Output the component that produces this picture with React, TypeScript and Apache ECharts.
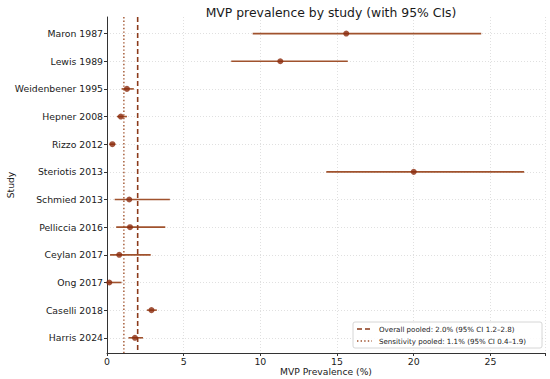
import React, { useEffect, useRef } from "react";
import * as echarts from "echarts";

const studies = [
  "Maron 1987",
  "Lewis 1989",
  "Weidenbener 1995",
  "Hepner 2008",
  "Rizzo 2012",
  "Steriotis 2013",
  "Schmied 2013",
  "Pelliccia 2016",
  "Ceylan 2017",
  "Ong 2017",
  "Caselli 2018",
  "Harris 2024",
];
const estimates = [15.6, 11.3, 1.3, 0.9, 0.35, 20.0, 1.45, 1.5, 0.8, 0.15, 2.9, 1.82];
const lowers = [9.5, 8.1, 0.95, 0.65, 0.15, 14.3, 0.5, 0.6, 0.2, 0.0, 2.6, 1.4];
const uppers = [24.4, 15.7, 1.75, 1.3, 0.55, 27.2, 4.1, 3.8, 2.85, 0.95, 3.25, 2.35];
const xTicks = [0, 5, 10, 15, 20, 25];
const pooledOverall = 2.0;
const pooledSensitivity = 1.1;
const legendLabels = [
  "Overall pooled: 2.0% (95% CI 1.2–2.8)",
  "Sensitivity pooled: 1.1% (95% CI 0.4–1.9)",
];

const FONT = "DejaVu Sans";
const CI_COLOR = "#a0522d";
const PT_COLOR = "#8b2a0c";
const POOL_COLOR = "#8b3a1a";

export default function App() {
  const ref = useRef<HTMLDivElement>(null);
  useEffect(() => {
    document.body.style.margin = "0";
    if (!ref.current) return;
    const chart = echarts.init(ref.current, null, { renderer: "svg" });
    const idx = studies.map((_, i) => i);
    const ciData = studies.map((_, i) => [lowers[i], uppers[i], i]);
    const ptData = studies.map((_, i) => [estimates[i], i]);
    const yMin = -0.6;
    const yMax = studies.length - 1 + 0.55;
    chart.setOption({
      animation: false,
      title: {
        text: "MVP prevalence by study (with 95% CIs)",
        left: 326,
        textAlign: "center",
        top: 1,
        textStyle: { fontFamily: FONT, fontSize: 12.4, fontWeight: "normal", color: "#1a1a1a" },
      },
      grid: { left: 107, right: 5, top: 17, bottom: 26, outerBoundsMode: "none", containLabel: false },
      xAxis: {
        type: "value",
        min: 0,
        max: 28.56,
        interval: 5,
        axisLine: { show: true, onZero: false, lineStyle: { color: "#333", width: 1 } },
        axisTick: { show: true, length: 3, lineStyle: { color: "#333" } },
        axisLabel: {
          fontFamily: FONT,
          fontSize: 9.4,
          color: "#1a1a1a",
          margin: 4,
          customValues: xTicks,
        },
        splitLine: { show: true, lineStyle: { color: "#d8d8d8", type: [1, 2], width: 0.8 } },
      },
      yAxis: {
        type: "value",
        min: yMin,
        max: yMax,
        inverse: true,
        axisLine: { show: true, onZero: false, lineStyle: { color: "#333", width: 1 } },
        axisTick: { show: true, length: 3, lineStyle: { color: "#333" }, customValues: idx },
        axisLabel: {
          fontFamily: FONT,
          fontSize: 9.3,
          color: "#1a1a1a",
          margin: 4,
          customValues: idx,
          formatter: (v: number) => studies[Math.round(v)] ?? "",
        },
        splitLine: { show: true, lineStyle: { color: "#d8d8d8", type: [1, 2], width: 0.8 } },
      },
      series: [
        {
          type: "custom",
          data: ciData,
          encode: { x: [0, 1], y: 2 },
          renderItem: (params: any, api: any) => {
            const p1 = api.coord([api.value(0), api.value(2)]);
            const p2 = api.coord([api.value(1), api.value(2)]);
            return {
              type: "line",
              shape: { x1: p1[0], y1: p1[1], x2: p2[0], y2: p2[1] },
              style: { stroke: CI_COLOR, lineWidth: 1.6 },
            };
          },
          z: 3,
        },
        {
          type: "scatter",
          data: ptData,
          symbol: "circle",
          symbolSize: 6,
          itemStyle: { color: PT_COLOR },
          z: 5,
        },
        {
          type: "line",
          data: [
            [pooledOverall, yMin],
            [pooledOverall, yMax],
          ],
          showSymbol: false,
          symbol: "none",
          lineStyle: { color: POOL_COLOR, width: 1.6, type: [5, 3] },
          z: 4,
        },
        {
          type: "line",
          data: [
            [pooledSensitivity, yMin],
            [pooledSensitivity, yMax],
          ],
          showSymbol: false,
          symbol: "none",
          lineStyle: { color: CI_COLOR, width: 1.4, type: [1.4, 2.2] },
          z: 4,
        },
      ],
      graphic: [
        {
          type: "text",
          x: 326,
          y: 371,
          style: {
            text: "MVP Prevalence (%)",
            fontFamily: FONT,
            fontSize: 9.2,
            fill: "#1a1a1a",
            align: "center",
            verticalAlign: "middle",
          },
        },
        {
          type: "text",
          x: 10,
          y: 185,
          rotation: Math.PI / 2,
          style: {
            text: "Study",
            fontFamily: FONT,
            fontSize: 9.2,
            fill: "#1a1a1a",
            align: "center",
            verticalAlign: "middle",
          },
        },
        {
          type: "rect",
          shape: { x: 353, y: 322, width: 189, height: 26, r: 2 },
          style: { fill: "rgba(255,255,255,0.85)", stroke: "#cccccc", lineWidth: 0.8 },
          z: 10,
        },
        {
          type: "line",
          shape: { x1: 357, y1: 329, x2: 372, y2: 329 },
          style: { stroke: POOL_COLOR, lineWidth: 1.6, lineDash: [5, 3] },
          z: 11,
        },
        {
          type: "line",
          shape: { x1: 357, y1: 341, x2: 372, y2: 341 },
          style: { stroke: CI_COLOR, lineWidth: 1.4, lineDash: [1.4, 2.2] },
          z: 11,
        },
        {
          type: "text",
          x: 379,
          y: 329,
          style: {
            text: legendLabels[0],
            fontFamily: FONT,
            fontSize: 7.1,
            fill: "#1a1a1a",
            verticalAlign: "middle",
          },
          z: 11,
        },
        {
          type: "text",
          x: 379,
          y: 341,
          style: {
            text: legendLabels[1],
            fontFamily: FONT,
            fontSize: 7.1,
            fill: "#1a1a1a",
            verticalAlign: "middle",
          },
          z: 11,
        },
      ],
    });
    return () => chart.dispose();
  }, []);
  return <div ref={ref} style={{ width: 550, height: 379 }} />;
}
